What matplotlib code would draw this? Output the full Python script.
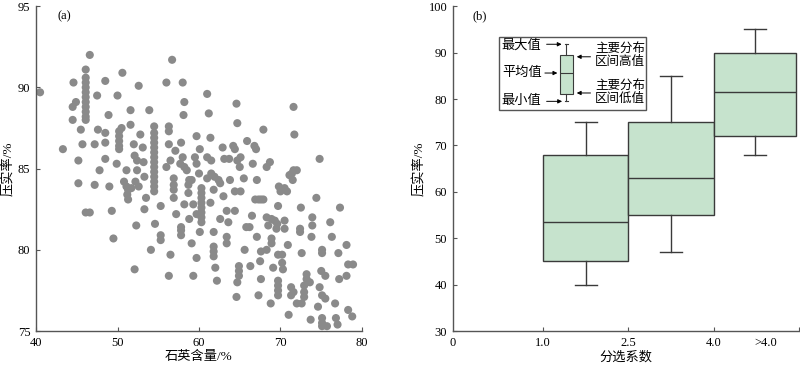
import matplotlib.pyplot as plt
from matplotlib.patches import Rectangle

plt.rcParams['font.family'] = ['Liberation Serif', 'Noto Sans CJK SC']
plt.rcParams['font.size'] = 9

# (a) quartz content (%) vs compaction rate (%)
quartz_compaction = [
    (40.5, 89.7), (43.3, 86.2), (44.6, 90.3), (44.5, 88.8), (44.9, 89.1), (44.5, 88.0),
    (45.5, 87.4), (45.2, 85.5), (45.2, 84.1), (45.7, 86.5),
    (46.1, 91.1), (46.1, 90.6), (46.1, 90.3), (46.1, 90.0), (46.1, 89.7), (46.1, 89.4),
    (46.1, 89.1), (46.1, 88.8), (46.1, 88.5), (46.1, 88.2), (46.1, 88.0),
    (46.6, 92.0), (46.1, 82.3), (46.6, 82.3), (47.5, 89.5), (47.6, 87.4), (47.8, 84.9),
    (47.2, 86.5), (47.2, 84.0), (48.5, 90.4), (48.5, 87.2), (48.5, 86.6), (48.5, 85.6),
    (48.9, 88.3), (49.0, 83.9), (49.3, 82.4), (49.5, 80.7), (50.0, 89.5), (49.9, 85.3),
    (50.2, 87.3), (50.2, 87.0), (50.2, 86.7), (50.2, 86.4), (50.2, 86.2), (50.5, 87.5),
    (50.6, 90.9), (51.1, 84.9), (50.8, 84.2), (51.1, 83.9), (51.3, 83.7), (51.3, 83.1),
    (51.7, 83.8), (51.2, 83.4), (51.6, 88.6), (51.6, 87.7), (52.0, 86.5), (52.1, 85.8),
    (52.4, 85.5), (52.4, 84.9), (52.2, 84.2), (52.6, 83.9), (52.3, 81.5), (52.1, 78.8),
    (52.6, 90.1), (52.8, 87.1), (53.1, 86.3), (53.2, 85.4), (53.3, 84.5), (53.5, 83.2),
    (53.3, 82.5), (53.9, 88.6), (54.1, 80.0),
    (54.5, 87.6), (54.5, 87.2), (54.5, 86.9), (54.5, 86.6), (54.5, 86.3), (54.5, 86.0),
    (54.5, 85.7), (54.5, 85.4), (54.5, 85.1), (54.5, 84.8), (54.5, 84.5), (54.5, 84.2),
    (54.5, 83.9), (54.5, 83.6), (54.6, 81.6),
    (55.3, 82.7), (55.3, 80.9), (55.3, 80.6), (56.0, 85.1), (56.0, 90.3), (56.3, 87.6),
    (56.3, 87.3), (56.3, 86.5), (56.5, 85.5), (56.7, 91.7), (56.3, 78.4), (56.5, 79.7),
    (56.9, 84.4), (56.9, 84.0), (56.9, 83.7), (56.9, 83.2), (57.2, 82.2), (57.1, 86.1),
    (57.8, 86.6), (58.0, 90.3), (58.2, 89.1), (58.1, 88.3),
    (57.7, 85.3), (58.0, 85.7), (58.2, 85.1), (58.5, 84.9), (58.8, 84.3), (58.7, 84.0),
    (59.1, 84.3), (57.8, 81.4), (57.8, 81.2), (57.8, 80.9), (58.2, 82.8), (58.7, 83.5),
    (58.8, 81.9), (59.1, 80.4), (59.3, 78.4), (59.7, 87.0), (59.5, 85.7), (59.7, 79.5),
    (59.7, 85.3), (60.0, 84.7), (60.1, 86.2), (59.3, 82.8),
    (60.3, 83.8), (60.3, 83.5), (60.3, 83.2), (60.3, 82.9), (60.3, 82.6), (60.3, 82.3),
    (60.3, 82.0), (60.3, 81.7),
    (59.7, 82.2), (60.1, 81.1), (61.0, 89.6), (61.2, 88.4), (61.4, 86.9), (61.0, 85.7),
    (61.5, 85.5), (61.0, 84.4), (61.5, 84.7), (61.9, 84.5), (61.4, 82.9), (61.8, 83.7),
    (61.8, 81.1), (61.8, 80.2), (61.8, 79.9), (61.8, 79.6), (62.0, 78.9), (62.2, 78.1),
    (62.4, 84.3), (62.6, 84.1), (62.6, 81.9), (62.9, 86.3), (63.1, 85.6), (63.0, 83.3),
    (63.4, 82.4), (63.7, 85.6), (63.6, 81.7), (63.4, 80.8), (63.4, 80.4), (63.8, 84.3),
    (64.2, 86.4), (64.4, 82.4), (64.6, 89.0), (64.7, 87.8), (64.4, 86.2), (64.7, 85.5),
    (65.0, 85.1), (65.1, 85.7), (64.4, 83.6), (65.1, 83.6), (64.6, 77.1), (64.9, 79.0),
    (64.9, 78.7), (64.9, 78.4), (64.7, 78.0), (65.5, 84.4), (65.6, 80.0), (65.8, 81.4),
    (66.2, 81.4), (65.9, 86.7), (66.3, 79.0), (66.5, 82.1), (66.6, 85.3), (66.8, 86.4),
    (67.0, 86.2), (66.9, 83.1), (67.3, 83.1), (67.6, 83.1), (67.9, 83.1),
    (67.1, 84.3), (67.1, 80.8), (67.3, 77.2), (67.5, 79.3), (67.6, 79.9), (67.6, 78.2),
    (67.9, 87.4), (68.3, 85.1), (68.7, 85.4), (68.3, 82.0), (68.5, 81.5), (68.3, 80.0),
    (68.9, 81.9), (69.3, 81.8), (69.6, 81.6), (68.9, 80.7), (68.9, 80.4), (69.1, 78.9),
    (68.8, 76.7), (69.5, 81.3), (69.8, 83.9), (70.0, 83.6), (69.7, 82.7),
    (69.7, 78.1), (69.7, 77.8), (69.7, 77.5), (69.7, 77.2),
    (69.7, 79.7), (70.2, 79.7), (70.2, 79.2), (70.3, 78.8), (70.5, 83.8), (70.8, 83.6),
    (70.5, 81.8), (70.5, 81.3), (70.9, 80.3), (71.0, 76.0), (71.1, 84.6), (71.4, 84.7),
    (71.6, 88.8), (71.7, 87.1), (71.6, 84.9), (72.0, 84.9), (71.5, 84.3), (71.3, 77.7),
    (71.3, 77.2), (71.6, 77.4), (72.4, 81.3), (72.4, 81.1), (72.5, 82.6), (72.0, 76.7),
    (72.6, 76.7), (72.6, 79.8), (72.9, 77.8), (72.9, 77.4), (72.9, 77.1), (73.2, 78.5),
    (73.2, 78.2), (73.6, 78.0), (73.7, 75.7), (73.9, 82.0), (73.9, 81.5), (73.8, 80.8),
    (74.4, 83.2), (74.6, 76.5), (74.8, 85.6), (74.8, 77.7), (75.0, 78.7), (75.1, 77.2),
    (75.1, 80.0), (75.1, 79.8), (75.1, 75.8), (75.1, 75.5), (75.1, 75.3), (75.5, 77.0),
    (75.5, 78.4), (75.7, 75.3), (76.1, 81.7), (76.3, 80.8), (76.7, 76.7), (76.8, 75.8),
    (77.0, 75.4), (77.1, 79.8), (77.2, 78.2), (77.3, 82.6), (78.1, 80.3), (78.1, 78.4),
    (78.3, 79.1), (78.9, 79.1), (78.3, 76.3), (78.8, 75.9),
]
quartz = [p[0] for p in quartz_compaction]
compaction = [p[1] for p in quartz_compaction]

# (b) compaction rate by sorting coefficient
edge_labels = ['1.0', '2.5', '4.0', '']
extra_labels = ['0', '>4.0']
box_max = [75, 85, 95]
box_q3 = [68, 75, 90]
box_med = [53.5, 63, 81.5]
box_q1 = [45, 55, 72]
box_min = [40, 47, 68]

# legend key values
key_stats = dict(whishi=91.8, q3=89.4, med=85.6, q1=81.1, whislo=79.5)

fig = plt.figure(figsize=(8, 3.65), dpi=100)
ax1 = fig.add_axes([0.045, 0.093, 0.4075, 0.89])
ax2 = fig.add_axes([0.566, 0.093, 0.4325, 0.89])

spine_c = '#555555'
for ax in (ax1, ax2):
    for s in ('top', 'right'):
        ax.spines[s].set_visible(False)
    for s in ('left', 'bottom'):
        ax.spines[s].set_color(spine_c)
        ax.spines[s].set_linewidth(1.0)
    ax.tick_params(direction='in', length=3, width=0.8, color=spine_c, labelsize=9, pad=4)

# ---- (a)
ax1.scatter(quartz, compaction, s=34, color='#8a8a8a', edgecolors='none', clip_on=False)
ax1.set_xlim(40, 80)
ax1.set_ylim(75, 95)
ax1.set_xticks([40, 50, 60, 70, 80])
ax1.set_yticks([75, 80, 85, 90, 95])
ax1.set_xlabel('石英含量/%', fontsize=9.5, labelpad=2)
ax1.set_ylabel('压实率/%', fontsize=9.5, labelpad=2)
ax1.text(0.067, 0.97, '(a)', transform=ax1.transAxes, fontsize=9, va='center')

# ---- (b)
edges = [1.05, 2.04, 3.03, 4.02]
stats = []
for i in range(3):
    stats.append(dict(whishi=box_max[i], q3=box_q3[i], med=box_med[i],
                      q1=box_q1[i], whislo=box_min[i]))
centers = [(edges[i] + edges[i + 1]) / 2 for i in range(3)]
widths = [edges[i + 1] - edges[i] for i in range(3)]
widths[-1] = 3.99 - edges[2]
centers[-1] = (edges[2] + 3.99) / 2
line_c = '#3a3a3a'
ax2.bxp(stats, positions=centers, widths=widths, patch_artist=True,
        showfliers=False, manage_ticks=False,
        boxprops=dict(facecolor='#c6e3cd', edgecolor=line_c, linewidth=1.0),
        medianprops=dict(color=line_c, linewidth=1.0),
        whiskerprops=dict(color=line_c, linewidth=1.0),
        capprops=dict(color=line_c, linewidth=1.0), capwidths=0.26)

ax2.set_xlim(0, 4.02)
ax2.set_ylim(30, 100)
ax2.set_xticks(edges)
ax2.set_xticklabels(edge_labels)
ax2.set_xticks([0, 3.64], minor=True)
ax2.set_xticklabels(extra_labels, minor=True)
ax2.tick_params(axis='x', which='minor', length=0, labelsize=9, pad=4)
ax2.set_yticks(range(30, 101, 10))
ax2.set_xlabel('分选系数', fontsize=9.5, labelpad=2)
ax2.set_ylabel('压实率/%', fontsize=9.5, labelpad=2)
ax2.text(0.058, 0.97, '(b)', transform=ax2.transAxes, fontsize=9, va='center')

# legend key
ax2.add_patch(Rectangle((0.54, 77.6), 1.70, 15.8, fill=False, edgecolor=spine_c, lw=1.0))
ax2.bxp([key_stats], positions=[1.32], widths=0.16, patch_artist=True,
        showfliers=False, manage_ticks=False, capwidths=0.03,
        boxprops=dict(facecolor='#c6e3cd', edgecolor=line_c, linewidth=0.8),
        medianprops=dict(color=line_c, linewidth=0.8),
        whiskerprops=dict(color=line_c, linewidth=0.8),
        capprops=dict(color=line_c, linewidth=0.8))

arrow = dict(arrowstyle='-|>', color='k', lw=0.7, mutation_scale=6, shrinkA=0, shrinkB=0)
ax2.annotate('', xy=(1.265, key_stats['whishi']), xytext=(1.09, key_stats['whishi']), arrowprops=arrow)
ax2.annotate('', xy=(1.215, key_stats['med']), xytext=(1.07, key_stats['med']), arrowprops=arrow)
ax2.annotate('', xy=(1.27, key_stats['whislo']), xytext=(1.09, key_stats['whislo']), arrowprops=arrow)
ax2.annotate('', xy=(1.44, 89.1), xytext=(1.60, 89.1), arrowprops=arrow)
ax2.annotate('', xy=(1.44, 81.3), xytext=(1.60, 81.3), arrowprops=arrow)

ax2.text(0.57, 91.6, '最大值', fontsize=9.5, va='center', ha='left')
ax2.text(0.57, 85.6, '平均值', fontsize=9.5, va='center', ha='left')
ax2.text(0.57, 79.6, '最小值', fontsize=9.5, va='center', ha='left')
ax2.text(1.65, 89.2, '主要分布\n区间高值', fontsize=9, va='center', ha='left', linespacing=1.0)
ax2.text(1.65, 81.3, '主要分布\n区间低值', fontsize=9, va='center', ha='left', linespacing=1.0)

fig.savefig('out.png', dpi=100)
